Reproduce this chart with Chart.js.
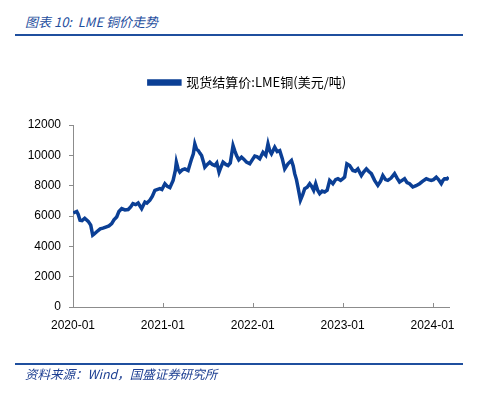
<!DOCTYPE html>
<html>
<head>
<meta charset="utf-8">
<script src="https://cdn.jsdelivr.net/npm/chart.js@4"></script>
<style>
  body { margin: 0; background: #fff; }
  #wrap { position: relative; width: 477px; height: 398px; overflow: hidden; }
  #chart { position: absolute; left: 0; top: 0; }
  .rule { position: absolute; left: 15px; width: 448px; height: 2px; background: #1f4f9e; }
  .caption { position: absolute; left: 25px; font-family: "Noto Sans CJK SC", sans-serif; font-style: italic; color: #1f4f9e; white-space: nowrap; }
</style>
</head>
<body>
<div id="wrap">
  <div class="caption" style="top:12px;font-size:13px;">图表 10:&nbsp; LME 铜价走势</div>
  <div class="rule" style="top:34px;"></div>
  <canvas id="chart" width="477" height="398"></canvas>
  <div class="rule" style="top:363px;"></div>
  <div class="caption" style="top:364px;font-size:12.5px;color:#1d3f92;">资料来源：Wind，国盛证券研究所</div>
</div>
<script>
const seriesName = '现货结算价:LME铜(美元/吨)';
const tickLabels = ['2020-01', '2021-01', '2022-01', '2023-01', '2024-01'];

const dates = [
    '2020-01-02', '2020-01-16', '2020-01-22', '2020-01-29', '2020-02-07', '2020-02-18', '2020-03-02', '2020-03-12',
    '2020-03-20', '2020-03-25', '2020-04-06', '2020-04-20', '2020-05-01', '2020-05-15', '2020-05-25', '2020-06-06',
    '2020-06-15', '2020-06-26', '2020-07-05', '2020-07-16', '2020-07-29', '2020-08-12', '2020-08-22', '2020-09-01',
    '2020-09-12', '2020-09-22', '2020-10-06', '2020-10-19', '2020-10-27', '2020-11-09', '2020-11-19', '2020-11-29',
    '2020-12-19', '2020-12-27', '2021-01-09', '2021-01-19', '2021-01-29', '2021-02-12', '2021-02-21', '2021-02-25',
    '2021-03-02', '2021-03-09', '2021-03-19', '2021-03-29', '2021-04-12', '2021-04-26', '2021-05-03', '2021-05-09',
    '2021-05-16', '2021-05-23', '2021-05-29', '2021-06-06', '2021-06-13', '2021-06-19', '2021-06-29', '2021-07-09',
    '2021-07-19', '2021-07-29', '2021-08-07', '2021-08-16', '2021-08-23', '2021-09-02', '2021-09-13', '2021-09-22',
    '2021-10-01', '2021-10-12', '2021-10-19', '2021-10-26', '2021-11-05', '2021-11-16', '2021-11-25', '2021-12-06',
    '2021-12-19', '2021-12-29', '2022-01-09', '2022-01-19', '2022-01-29', '2022-02-12', '2022-02-23', '2022-03-02',
    '2022-03-09', '2022-03-16', '2022-03-29', '2022-04-09', '2022-04-19', '2022-04-29', '2022-05-09', '2022-05-22',
    '2022-06-06', '2022-06-13', '2022-06-19', '2022-06-26', '2022-07-02', '2022-07-12', '2022-07-21', '2022-07-29',
    '2022-08-09', '2022-08-19', '2022-08-27', '2022-09-05', '2022-09-13', '2022-09-21', '2022-09-29', '2022-10-09',
    '2022-10-19', '2022-10-29', '2022-11-09', '2022-11-22', '2022-12-03', '2022-12-12', '2022-12-23', '2023-01-02',
    '2023-01-09', '2023-01-18', '2023-01-29', '2023-02-12', '2023-02-22', '2023-03-02', '2023-03-16', '2023-03-25',
    '2023-04-06', '2023-04-15', '2023-04-26', '2023-05-09', '2023-05-22', '2023-06-03', '2023-06-12', '2023-06-23',
    '2023-07-02', '2023-07-15', '2023-07-29', '2023-08-09', '2023-08-19', '2023-08-29', '2023-09-09', '2023-09-19',
    '2023-09-29', '2023-10-12', '2023-10-25', '2023-11-09', '2023-11-22', '2023-12-06', '2023-12-15', '2023-12-26',
    '2024-01-05', '2024-01-16', '2024-01-25', '2024-02-06', '2024-02-13', '2024-02-19', '2024-02-29', '2024-03-06'
];

const copperPrice = [
    6200, 6300, 6100, 5720, 5700, 5850, 5650, 5400,
    4740, 4800, 4960, 5150, 5200, 5290, 5350, 5500,
    5750, 5940, 6300, 6490, 6400, 6430, 6600, 6820,
    6750, 6860, 6490, 6920, 6850, 7040, 7300, 7690,
    7800, 7750, 8130, 7950, 7870, 8350, 9000, 9550,
    9100, 8890, 9050, 9110, 9000, 9770, 10100, 10750,
    10400, 10310, 10150, 9990, 9600, 9220, 9400, 9550,
    9400, 9330, 9500, 8890, 9200, 9550, 9400, 9330,
    9500, 10640, 10300, 9990, 9700, 9880, 9750, 9550,
    9440, 9700, 9950, 9900, 9770, 10200, 10000, 10750,
    10300, 10100, 10530, 10250, 10310, 9800, 9110, 9440,
    9660, 9300, 8790, 8400, 7910, 7040, 7400, 7800,
    7900, 8130, 7950, 7690, 8130, 7700, 7480, 7650,
    7580, 7700, 8350, 8130, 8400, 8460, 8350, 8460,
    8560, 9440, 9330, 9000, 8950, 9110, 8670, 8900,
    9110, 8950, 8790, 8350, 8020, 8300, 8670, 8400,
    8350, 8500, 8790, 8500, 8240, 8350, 8460, 8200,
    8130, 7910, 8000, 8130, 8300, 8460, 8400, 8350,
    8400, 8560, 8400, 8130, 8350, 8460, 8450, 8560
];

// months since 2020-01-01
function monthIndex(d) {
    const p = d.split('-').map(Number);
    return (p[0] - 2020) * 12 + (p[1] - 1) + (p[2] - 1) / 30;
}

const points = dates.map((d, i) => ({ x: monthIndex(d), y: copperPrice[i] }));

const AXIS_COLOR = '#8c8c8c';

const layoutTweaks = {
    id: 'layoutTweaks',
    beforeInit: function (chart) {
        // extra space between legend and plot
        const legend = chart.legend;
        const fit = legend.fit;
        legend.fit = function () {
            fit.call(legend);
            legend.height += 26;
        };
    },
    afterLayout: function (chart) {
        // centre the legend over the plot, not the whole canvas
        chart.legend.left += 46;
    },
    afterDraw: function (chart) {
        // x ticks point inwards
        const xs = chart.scales.x;
        const ctx = chart.ctx;
        ctx.save();
        ctx.strokeStyle = AXIS_COLOR;
        ctx.lineWidth = 1;
        xs.ticks.forEach(t => {
            const px = Math.round(xs.getPixelForValue(t.value)) + 0.5;
            ctx.beginPath();
            ctx.moveTo(px, xs.top);
            ctx.lineTo(px, xs.top - 4);
            ctx.stroke();
        });
        ctx.restore();
    }
};

new Chart(document.getElementById('chart'), {
    type: 'line',
    data: {
        datasets: [{
            label: seriesName,
            data: points,
            borderColor: '#0b3f95',
            backgroundColor: '#0b3f95',
            borderWidth: 3.5,
            pointRadius: 0,
            tension: 0,
            fill: false
        }]
    },
    options: {
        responsive: false,
        animation: false,
        devicePixelRatio: 1,
        layout: { padding: { top: 66, left: 0, right: 28, bottom: 61 } },
        plugins: {
            legend: {
                position: 'top',
                labels: {
                    boxWidth: 31,
                    boxHeight: 3,
                    padding: 10,
                    color: '#000',
                    font: { family: '"Noto Sans CJK SC", sans-serif', size: 13 }
                }
            },
            tooltip: { enabled: false }
        },
        scales: {
            x: {
                type: 'linear',
                min: 0,
                max: 50.2,
                afterFit: s => { s.height = 30; },
                afterBuildTicks: s => { s.ticks = tickLabels.map((l, i) => ({ value: i * 12 })); },
                grid: { display: false, drawTicks: false },
                border: { display: true, color: AXIS_COLOR, width: 1 },
                ticks: {
                    padding: 11,
                    maxRotation: 0,
                    autoSkip: false,
                    color: '#000',
                    font: { family: '"Liberation Sans", Arial, sans-serif', size: 12 },
                    callback: v => tickLabels[Math.round(v / 12)]
                }
            },
            y: {
                min: 0,
                max: 12000,
                afterFit: s => { s.width = 73; },
                grid: { drawOnChartArea: false, drawTicks: true, tickLength: 4, color: AXIS_COLOR },
                border: { display: true, color: AXIS_COLOR, width: 1 },
                ticks: {
                    stepSize: 2000,
                    padding: 8,
                    color: '#000',
                    font: { family: '"Liberation Sans", Arial, sans-serif', size: 12 },
                    callback: v => String(v)
                }
            }
        }
    },
    plugins: [layoutTweaks]
});
</script>
</body>
</html>
